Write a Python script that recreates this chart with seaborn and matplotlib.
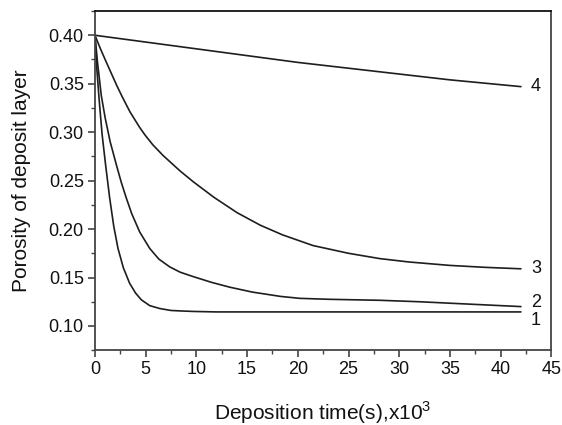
import matplotlib
matplotlib.use('Agg')
import matplotlib.pyplot as plt
import seaborn as sns
import pandas as pd
from matplotlib.ticker import MultipleLocator, FormatStrFormatter

# deposition time (x10^3 s) and porosity for each curve
t1 = [0, 0.15, 0.4, 0.7, 1.05, 1.45, 1.85, 2.27, 2.8, 3.42, 4.0, 4.57, 5.4, 6.39, 7.5, 8.5, 9.67,
      12, 16, 20, 25, 30, 35, 42]
p1 = [0.400, 0.370, 0.335, 0.298, 0.266, 0.232, 0.203, 0.180, 0.160, 0.144, 0.134, 0.127, 0.121,
      0.118, 0.116, 0.1155, 0.115, 0.1145, 0.1145, 0.1145, 0.1145, 0.1145, 0.1145, 0.1145]

t2 = [0, 0.25, 0.62, 1.0, 1.5, 2.17, 2.6, 3.09, 3.62, 4.41, 5.4, 6.3, 7.37, 8.4, 9.67, 11.5, 13.3,
      15.5, 18.3, 20.2, 23.2, 28.1, 32, 36, 42]
p2 = [0.400, 0.372, 0.338, 0.315, 0.290, 0.264, 0.248, 0.232, 0.216, 0.197, 0.180, 0.169, 0.161,
      0.1555, 0.151, 0.145, 0.140, 0.135, 0.1305, 0.1285, 0.1275, 0.1265, 0.125, 0.123, 0.120]

t3 = [0, 0.5, 1.0, 1.64, 2.2, 2.76, 3.45, 4.4, 4.94, 5.7, 6.71, 8.39, 9.67, 11.7, 14, 16.3, 18.5,
      21.5, 25, 28.1, 31, 35, 38.5, 42]
p3 = [0.400, 0.387, 0.375, 0.360, 0.347, 0.335, 0.321, 0.305, 0.297, 0.287, 0.276, 0.260, 0.249,
      0.233, 0.217, 0.204, 0.194, 0.183, 0.175, 0.1695, 0.166, 0.1625, 0.1605, 0.159]

t4 = [0, 5, 10, 15, 20, 25, 30, 35, 42]
p4 = [0.400, 0.393, 0.386, 0.379, 0.372, 0.366, 0.360, 0.354, 0.347]

curve_names = ['1', '2', '3', '4']
label_y = [0.106, 0.124, 0.159, 0.347]

frames = []
for name, t, p in zip(curve_names, [t1, t2, t3, t4], [p1, p2, p3, p4]):
    frames.append(pd.DataFrame({'time': t, 'porosity': p, 'curve': name}))
df = pd.concat(frames, ignore_index=True)

sns.set_style('ticks')
plt.rcParams['font.family'] = ['Liberation Sans', 'DejaVu Sans']
plt.rcParams['mathtext.fontset'] = 'custom'
plt.rcParams['mathtext.rm'] = 'Liberation Sans'

fig, ax = plt.subplots(figsize=(5.62, 4.25), dpi=100)
fig.subplots_adjust(left=0.169, right=0.981, top=0.974, bottom=0.176)

sns.lineplot(data=df, x='time', y='porosity', units='curve', estimator=None,
             color='#1e1e1e', linewidth=1.2, sort=False, ax=ax)

for name, y in zip(curve_names, label_y):
    ax.text(43.0, y, name, fontsize=13, va='center', ha='left', color='#111111')

ax.set_xlim(0, 45)
ax.set_ylim(0.075, 0.425)
ax.xaxis.set_major_locator(MultipleLocator(5))
ax.xaxis.set_minor_locator(MultipleLocator(2.5))
ax.yaxis.set_major_locator(MultipleLocator(0.05))
ax.yaxis.set_minor_locator(MultipleLocator(0.025))
ax.yaxis.set_major_formatter(FormatStrFormatter('%.2f'))

ax.tick_params(which='major', direction='out', length=5, width=1.2, labelsize=13,
               color='#444444', labelcolor='#111111', top=False, right=False, pad=3)
ax.tick_params(which='minor', direction='out', length=3, width=1.0, color='#444444',
               top=False, right=False)

for side in ['left', 'bottom', 'right', 'top']:
    ax.spines[side].set_visible(True)
    ax.spines[side].set_linewidth(1.3)
    ax.spines[side].set_color('#444444')
ax.spines['top'].set_color('#111111')

ax.set_xlabel('Deposition time(s),x10$^3$', fontsize=15, labelpad=15, color='#111111')
ax.set_ylabel('Porosity of deposit layer', fontsize=15, labelpad=13, color='#111111')

fig.savefig('out.png', dpi=100)
